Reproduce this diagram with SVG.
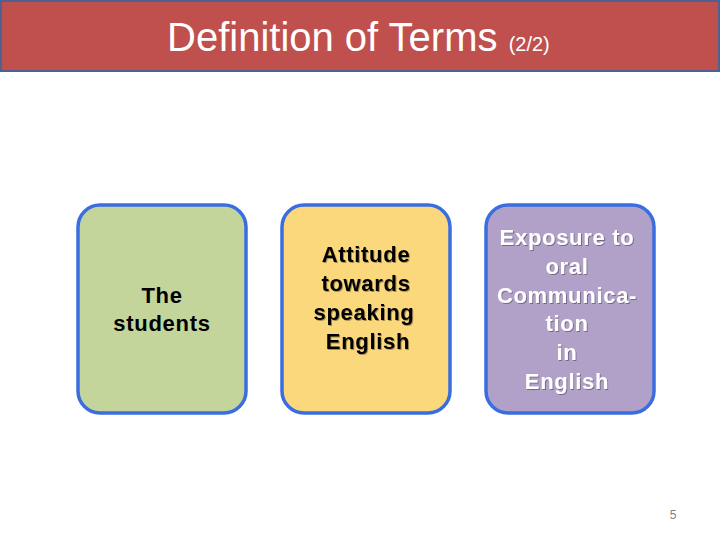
<svg xmlns="http://www.w3.org/2000/svg" width="720" height="540" viewBox="0 0 720 540">
<defs>
<filter id="sh" x="-10%" y="-10%" width="120%" height="120%">
<feDropShadow dx="1" dy="1" stdDeviation="0.6" flood-color="#000" flood-opacity="0.35"/>
</filter>
</defs>
<style>
.box{stroke:#3A6EE0;stroke-width:3.5}
.t{font-family:"Liberation Sans",Arial,sans-serif;font-weight:bold;font-size:22px;letter-spacing:0.7px;text-anchor:middle}
</style>
<rect width="720" height="540" fill="#ffffff"/>
<g id="header">
<rect x="1" y="1" width="718" height="70" fill="#C0504D" stroke="#4F6190" stroke-width="2"/>
<text x="167" y="51" font-family="Liberation Sans,Arial,sans-serif" font-size="40" fill="#ffffff">Definition of Terms <tspan font-size="20">(2/2)</tspan></text>
</g>
<g id="node1">
<rect class="box" x="78" y="205" width="168" height="208" rx="22" fill="#C3D59B"/>
<text class="t" fill="#000"><tspan x="162" y="303">The</tspan><tspan x="162" y="331">students</tspan></text>
</g>
<g id="node2">
<rect class="box" x="282" y="205" width="168" height="208" rx="22" fill="#FCD87C"/>
<text class="t" fill="#000" filter="url(#sh)"><tspan x="366" y="262">Attitude</tspan><tspan x="366" y="291">towards</tspan><tspan x="364" y="320">speaking</tspan><tspan x="368" y="349">English</tspan></text>
</g>
<g id="node3">
<rect class="box" x="486" y="205" width="168" height="208" rx="22" fill="#B1A1C8"/>
<text class="t" fill="#ffffff" filter="url(#sh)"><tspan x="567" y="245">Exposure to</tspan><tspan x="567" y="274">oral</tspan><tspan x="567" y="303">Communica-</tspan><tspan x="567" y="331">tion</tspan><tspan x="567" y="360">in</tspan><tspan x="567" y="389">English</tspan></text>
</g>
<g id="connectors"/>
<text x="673" y="519" font-family="Liberation Sans,Arial,sans-serif" font-size="12" fill="#7F7F7F" text-anchor="middle">5</text>
</svg>
